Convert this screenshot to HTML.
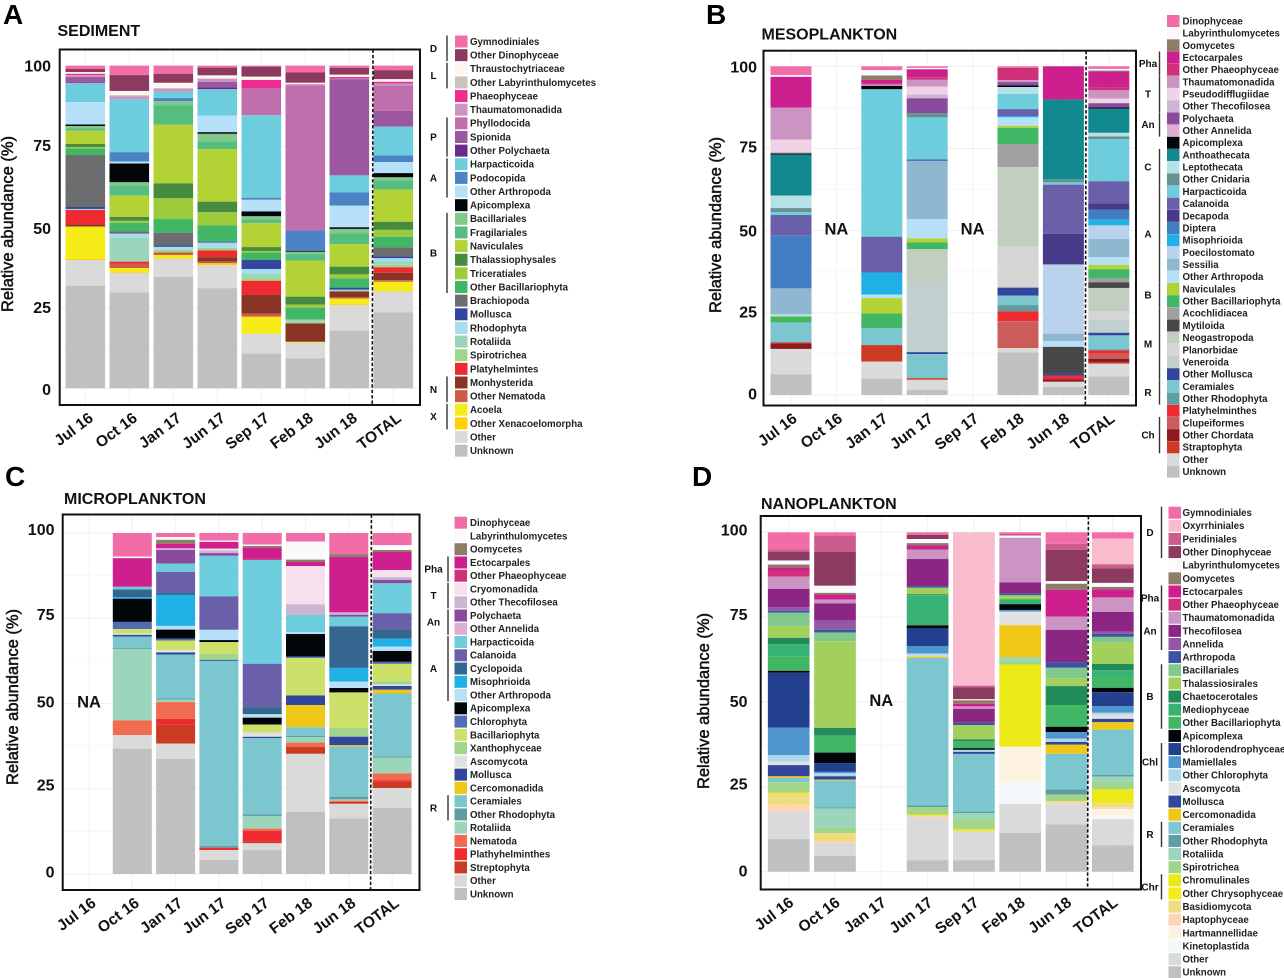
<!DOCTYPE html>
<html lang="en">
<head>
<meta charset="utf-8">
<title>Relative abundance of taxa by sample type</title>
<style>
html,body{margin:0;padding:0;background:#fff;}
svg{display:block;font-family:"Liberation Sans",sans-serif;}
.letter{font-size:28px;font-weight:700;fill:#000;}
.title{font-size:16px;font-weight:700;fill:#111;}
.ytitle{font-size:16.5px;font-weight:400;fill:#111;stroke:#111;stroke-width:.5px;text-anchor:middle;}
.ytick{font-size:16px;font-weight:700;fill:#111;text-anchor:end;}
.xtick{font-size:15.5px;font-weight:700;fill:#111;text-anchor:end;}
.na{font-size:16.5px;font-weight:700;fill:#111;text-anchor:middle;}
.leg{font-size:9.7px;font-weight:700;fill:#222;}
.grp{font-size:10px;font-weight:700;fill:#111;text-anchor:middle;}
</style>
</head>
<body>
<svg id="figure" width="1284" height="978" viewBox="0 0 1284 978" xmlns="http://www.w3.org/2000/svg">
  <rect width="1284" height="978" fill="#fff"/>
  <text class="letter" x="3" y="24">A</text>
  <text class="letter" x="706" y="24">B</text>
  <text class="letter" x="5" y="486">C</text>
  <text class="letter" x="692" y="486">D</text>
  <text class="title" x="57.5" y="36">SEDIMENT</text>
  <text class="title" x="761.5" y="39.5">MESOPLANKTON</text>
  <text class="title" x="64" y="504">MICROPLANKTON</text>
  <text class="title" x="761" y="509">NANOPLANKTON</text>
  <text class="ytitle" transform="translate(13,224) rotate(-90)">Relative abundance (%)</text>
  <text class="ytitle" transform="translate(721,225) rotate(-90)">Relative abundance (%)</text>
  <text class="ytitle" transform="translate(18,697) rotate(-90)">Relative abundance (%)</text>
  <text class="ytitle" transform="translate(709,701) rotate(-90)">Relative abundance (%)</text>
  <g id="charts"></g>
</svg>
<script>
const categories = ["Jul 16","Oct 16","Jan 17","Jun 17","Sep 17","Feb 18","Jun 18","TOTAL"];
const yTicks = [0,25,50,75,100];
const yMinorTicks = [12.5,37.5,62.5,87.5];

/* ---------- A: sediment ---------- */
const sedimentKeys = ["Gym","ODi","Thr","OLa","Pha","Tha","Phy","Spi","OPo","Har","Pod","OAr","Api","Bac","Fra","Nav","Ths","Tri","OBa","Bra","Mol","Rho","Rot","Spr","Pla","Mon","ONe","Aco","OXe","Oth","Unk"];
const sedimentTaxa = ["Gymnodiniales","Other Dinophyceae","Thraustochytriaceae","Other Labyrinthulomycetes","Phaeophyceae","Thaumatomonadida","Phyllodocida","Spionida","Other Polychaeta","Harpacticoida","Podocopida","Other Arthropoda","Apicomplexa","Bacillariales","Fragilariales","Naviculales","Thalassiophysales","Triceratiales","Other Bacillariophyta","Brachiopoda","Mollusca","Rhodophyta","Rotaliida","Spirotrichea","Platyhelmintes","Monhysterida","Other Nematoda","Acoela","Other Xenacoelomorpha","Other","Unknown"];
const sedimentColors = ["#f26ca7","#8c3a5f","#fdf6ef","#c9c3bd","#ec2d8e","#cb94c3","#c06fad","#9b58a0","#6a2c8b","#6dcddd","#4a84c5","#b5e0f7","#020608","#81c98a","#55bd7f","#b2d235","#468b3f","#9ccb3b","#41b766","#6c6d6f","#31469c","#a8dcef","#9bd5bc","#a0d58a","#ed2b30","#8a3426","#cf5c47","#f5ec17","#fed105","#dadada","#c0c0c0"];
const sedimentJul16 = {Gym:1,ODi:1,Thr:.5,Pha:.4,Tha:.6,Spi:1.7,OPo:.2,Har:5.8,OAr:6.9,Api:.5,Bac:.7,Fra:.7,Nav:4.1,Ths:1,Tri:.4,OBa:2,Bra:16,Mol:.6,Rho:.3,Pla:4.5,Mon:.6,OXe:.3,Aco:10,Oth:8,Unk:31.5};
const sedimentOct16 = {Gym:2.9,ODi:4.9,Thr:1.3,OLa:.3,Tha:1,Har:16.3,Pod:2.9,OAr:.6,Api:5.8,Bac:1,Fra:3.1,Nav:6.6,Ths:1.2,Tri:.6,OBa:2.7,Bra:.7,Rho:1.3,Rot:7.3,Pla:.7,ONe:1.3,OXe:.2,Aco:1.3,Oth:6,Unk:29.6};
const sedimentJan17 = {Gym:2.5,ODi:2.8,Thr:1.6,OLa:.2,Tha:1,Har:1.9,Pod:1,Bac:1.2,Fra:6,Nav:18.2,Ths:4.6,Tri:6.4,OBa:4.2,Bra:3.9,Mol:.5,Rho:.9,Spr:.8,ONe:.8,OXe:.2,Aco:1,Oth:5.6,Unk:34.4};
const sedimentJun17 = {Gym:.6,ODi:2.4,Thr:1,Tha:1,Spi:1.7,OPo:.6,Har:8.2,OAr:5.1,Api:.5,Bac:2.3,Fra:2.4,Nav:16.3,Ths:3.3,Tri:4.1,OBa:5,Mol:.3,Rho:1.6,Spr:.8,Pla:2.1,Mon:1.4,ONe:.5,OXe:.6,Oth:7.1,Unk:31};
const sedimentSep17 = {Gym:.3,ODi:3.1,Thr:1,Pha:2.6,Phy:8.3,Har:25.5,Pod:.6,OAr:3.6,Api:1.5,Bac:1,Fra:1.1,Nav:7.4,Ths:1.2,Tri:.5,OBa:2.3,Mol:2.8,Rho:1.5,Rot:1,Spr:1.1,Pla:4.4,Mon:5.8,ONe:.9,Aco:5.3,Oth:6.1,Unk:10.7};
const sedimentFeb18 = {Gym:2.1,ODi:3.2,Thr:.4,Tha:.4,Phy:45,Pod:6.3,Api:.3,Bac:.7,Fra:2,Nav:11.2,Ths:2.5,Tri:.9,OBa:3.7,Rot:.7,Spr:.5,Mon:5.7,Aco:.3,Oth:4.8,Unk:9.3};
const sedimentJun18 = {Gym:.7,ODi:2.1,Thr:.7,Pha:.3,Phy:.4,Spi:29.8,Har:5.3,Pod:4.1,OAr:6.7,Api:.5,Bac:1.4,Fra:3.3,Nav:7,Ths:2.4,Tri:1.2,OBa:2.9,Mol:.6,Rot:.6,Mon:1.7,ONe:.5,OXe:.3,Aco:1.7,Oth:7.9,Unk:17.9};
const sedimentTotal = {Gym:1.4,ODi:2.8,Thr:.8,Pha:.5,Tha:.6,Phy:7.9,Spi:4.9,Har:8.9,Pod:2.1,OAr:3.4,Api:1.3,Bac:1,Fra:2.8,Nav:10,Ths:2.5,Tri:2.1,OBa:3.3,Bra:2.8,Mol:.6,Rho:1,Rot:1,Spr:.8,Pla:1.7,Mon:2.3,ONe:.5,Aco:3,Oth:6.5,Unk:23.5};
const sedimentGroups = [["D",0,1],["L",2,3],["P",6,8],["A",9,11],["B",13,18],["N",25,26],["X",27,28]];

/* ---------- B: mesoplankton ---------- */
const mesoKeys = ["Din","Lab","Oom","Ect","OPh","Tha","Pse","OTh","Pol","OAn","Api","Ant","Lep","OCn","Har","Cal","Dec","Dip","Mis","Poe","Ses","OAr","Nav","OBa","Aco","Myt","Neo","Pla","Ven","OMo","Cer","ORh","Plt","Clu","OCh","Str","Oth","Unk"];
const mesoTaxa = ["Dinophyceae","Labyrinthulomycetes","Oomycetes","Ectocarpales","Other Phaeophyceae","Thaumatomonadida","Pseudodifflugiidae","Other Thecofilosea","Polychaeta","Other Annelida","Apicomplexa","Anthoathecata","Leptothecata","Other Cnidaria","Harpacticoida","Calanoida","Decapoda","Diptera","Misophrioida","Poecilostomato","Sessilia","Other Arthropoda","Naviculales","Other Bacillariophyta","Acochlidiacea","Mytiloida","Neogastropoda","Planorbidae","Veneroida","Other Mollusca","Ceramiales","Other Rhodophyta","Platyhelminthes","Clupeiformes","Other Chordata","Straptophyta","Other","Unknown"];
const mesoColors = ["#f26ca7","#fafafc","#8d7c66","#cd1f8d","#ce317a","#cc94c3","#f0d2e5","#cbb5d3","#8a4b9e","#e0aed2","#020608","#12888f","#b4e2e7","#67918f","#6dcddd","#6a5fa9","#483a8a","#417dc1","#1fb0e6","#bbd2ec","#90b7d0","#b5e0f7","#b2d235","#41b766","#a0a0a0","#474747","#c2cfc0","#d5d5d5","#c2cfcf","#31469c","#7bc6cf","#5e9ea2","#ed2b30","#cd5c5c","#8e1a1e","#cc3a24","#dadada","#c0c0c0"];
const mesoJul16 = {Din:2.7,Lab:.5,Ect:9.4,Tha:9.7,Pse:3.7,OTh:.5,Api:.4,Ant:12.4,Lep:3.8,OCn:1.2,Har:.9,Cal:6.3,Dip:16,Ses:7.9,OAr:.5,Nav:.2,OBa:1.8,Cer:5.9,Clu:.4,OCh:1.7,Oth:7.7,Unk:6.3};
const mesoOct16 = {};
const mesoJan17 = {Din:1.2,Lab:1.6,Oom:1.3,Ect:1.2,OPh:.3,Tha:.4,Api:1,Har:44.9,Cal:10.9,Mis:6.7,OAr:1.1,Nav:4.7,OBa:4.5,Cer:5.1,Str:5,Oth:5.2,Unk:5};
const mesoJun17 = {Din:.5,Lab:.4,Ect:2.4,OPh:.8,Tha:2.1,Pse:2.4,OTh:1.1,Pol:4.5,OCn:1.3,Har:12.7,Dip:.6,Ses:17.6,OAr:5.8,Nav:1.2,OBa:2.1,Neo:10.5,Ven:20.7,OMo:.6,Cer:7.3,Str:.5,Oth:3.1,Unk:1.5};
const mesoSep17 = {};
const mesoFeb18 = {Din:.5,OPh:3.7,Tha:.6,Pol:1,Api:.5,Lep:2.1,Har:4.6,Cal:2.1,Mis:.4,OAr:2.6,Nav:.6,OBa:5,Aco:6.9,Neo:24.1,Pla:12.5,OMo:2.4,Cer:2.9,ORh:1.9,Plt:3,Clu:7.7,Str:.4,Oth:1.4,Unk:12.9};
const mesoJun18 = {Ect:10.1,Ant:24.2,OCn:.9,Har:.7,Cal:14.9,Dec:9.3,Poe:21,Ses:2.3,OAr:1.7,Myt:8.1,OMo:.6,Plt:1.1,OCh:.8,Oth:1.6,Unk:2.4};
const mesoTotal = {Din:.8,Lab:.5,Oom:.3,Ect:4.8,OPh:.9,Tha:2.5,Pse:1.4,Pol:1.3,Api:.4,Ant:7.3,Lep:1.1,OCn:.8,Har:12.8,Cal:6.7,Dec:1.9,Dip:3.1,Mis:1.7,Poe:4.1,Ses:5.5,OAr:2.4,Nav:1.3,OBa:2.8,Aco:1.2,Myt:1.7,Neo:7,Pla:2.6,Ven:4,OMo:.8,Cer:4.2,ORh:.4,Plt:1,Clu:1.5,OCh:1.1,Str:.4,Oth:3.9,Unk:5.6};
const mesoGroups = [["Pha",3,4],["T",5,7],["An",8,9],["C",11,13],["A",14,21],["B",22,23],["M",24,29],["R",30,31],["Ch",33,35]];

/* ---------- C: microplankton ---------- */
const microKeys = ["Din","Lab","Oom","Ect","OPh","Cry","OTh","Pol","OAn","Har","Cal","Cyc","Mis","OAr","Api","Chl","Bac","Xan","Asc","Mol","Crc","Cer","ORh","Rot","Nem","Plt","Str","Oth","Unk"];
const microTaxa = ["Dinophyceae","Labyrinthulomycetes","Oomycetes","Ectocarpales","Other Phaeophyceae","Cryomonadida","Other Thecofilosea","Polychaeta","Other Annelida","Harpacticoida","Calanoida","Cyclopoida","Misophrioida","Other Arthropoda","Apicomplexa","Chlorophyta","Bacillariophyta","Xanthophyceae","Ascomycota","Mollusca","Cercomonadida","Ceramiales","Other Rhodophyta","Rotaliida","Nematoda","Plathyhelminthes","Streptophyta","Other","Unknown"];
const microColors = ["#f26ca7","#fafafc","#8d7c66","#cd1f8d","#ce317a","#f8dfee","#cbb5d3","#8a4b9e","#e0aed2","#6dcddd","#6a5fa9","#35668f","#1fb0e6","#b5e0f7","#020608","#4f6cb4","#cde06a","#a0d58a","#e1e3e2","#31469c","#efc817","#7bc6cf","#5e9ea2","#9bd5bc","#f16b50","#ed2b30","#cc3a24","#dadada","#c0c0c0"];
const microJul16 = {};
const microOct16 = {Din:6.9,Lab:.5,Ect:8.4,Har:.8,Cyc:2.2,Mis:.5,Api:6.8,Chl:2.1,Bac:1.3,Asc:.4,Mol:.5,Cer:3.4,ORh:.3,Rot:20.9,Nem:4.3,Oth:4,Unk:36.8};
const microJan17 = {Din:1.2,Lab:.8,Oom:1.2,Ect:1.3,OTh:.5,Pol:4,Har:2.4,Cal:6.1,Cyc:.7,Mis:9.1,OAr:1.1,Api:2.6,Chl:.6,Bac:2.8,Asc:.7,Mol:.6,Cer:12.9,ORh:.4,Rot:.7,Nem:4.9,Plt:1.6,Str:5.7,Oth:4.5,Unk:33.8};
const microJun17 = {Din:2.2,Lab:.4,Ect:2,Cry:.5,OTh:.8,Pol:.8,Har:11.9,Cal:9.8,OAr:3,Api:.6,Bac:3.5,Xan:1.7,Mol:.3,Cer:54.3,ORh:.5,Plt:.7,Oth:2.9,Unk:4.1};
const microSep17 = {Din:3.4,Lab:.4,Oom:.5,Ect:3.2,OPh:.4,Har:30.4,Cal:12.7,Cyc:2.1,OAr:1,Api:2,Bac:2.4,Asc:1.2,Mol:.4,Cer:22.3,ORh:.5,Rot:3.7,Nem:.7,Plt:3.2,Str:.4,Oth:2,Unk:7};
const microFeb18 = {Din:2.5,Lab:5.3,Oom:.7,Ect:1.2,Cry:11.2,OTh:3.1,Har:5,OAr:.6,Api:6.6,Chl:.4,Bac:11,Mol:2.8,Crc:6.5,Cer:2.5,ORh:.4,Rot:1.6,Nem:1.3,Str:2,Oth:17,Unk:18.2};
const microJun18 = {Din:6.2,Oom:.8,Ect:16.3,OTh:.7,Pol:.6,Har:2.8,Cyc:12.2,Mis:4,OAr:1.9,Api:1.3,Bac:10.4,Xan:2.6,Mol:2.5,Crc:.4,Cer:14.7,ORh:.8,Rot:.4,Nem:.3,Str:.6,Oth:4.3,Unk:16.3};
const microTotal = {Din:3.6,Lab:1.4,Oom:.6,Ect:5.3,Cry:2.1,OTh:.8,Pol:1,Har:8.8,Cal:4.8,Cyc:2.7,Mis:2.3,OAr:1.3,Api:3.2,Chl:.6,Bac:5.1,Xan:1,Asc:.4,Mol:1.1,Crc:1.1,Cer:18.5,ORh:.4,Rot:4.6,Nem:2,Plt:.5,Str:1.8,Oth:5.9,Unk:19.4};
const microGroups = [["Pha",3,4],["T",5,6],["An",7,8],["A",9,13],["R",21,22]];

/* ---------- D: nanoplankton ---------- */
const nanoKeys = ["Gym","Oxy","Per","ODi","Lab","Oom","Ect","OPh","Tha","The","Ann","Art","Bac","Thl","Cha","Med","OBa","Api","Chd","Mam","OCh","Asc","Mol","Crc","Cer","ORh","Rot","Spr","Chr","OCy","Bas","Hap","Hrt","Kin","Oth","Unk"];
const nanoTaxa = ["Gymnodiniales","Oxyrrhiniales","Peridiniales","Other Dinophyceae","Labyrinthulomycetes","Oomycetes","Ectocarpales","Other Phaeophyceae","Thaumatomonadida","Thecofilosea","Annelida","Arthropoda","Bacillariales","Thalassiosirales","Chaetocerotales","Mediophyceae","Other Bacillariophyta","Apicomplexa","Chlorodendrophyceae","Mamiellales","Other Chlorophyta","Ascomycota","Mollusca","Cercomonadida","Ceramiales","Other Rhodophyta","Rotaliida","Spirotrichea","Chromulinales","Other Chrysophyceae","Basidiomycota","Haptophyceae","Hartmannellidae","Kinetoplastida","Other","Unknown"];
const nanoColors = ["#f26ca7","#f8bccd","#cd5c8e","#8c3a5f","#fafafc","#8d7c66","#cd1f8d","#ce317a","#cc94c3","#8b2783","#9258a5","#3b53a4","#81c98a","#a3cf5b","#228b5a","#39b375","#41b766","#020608","#23408e","#4e94cd","#add8ea","#e1e3e2","#31469c","#efc817","#7bc6cf","#5e9ea2","#9bd5bc","#a0d58a","#ebe917","#f5ec17","#eedc7f","#fdd4b8","#fdf1e0","#f3f8fb","#dadada","#c0c0c0"];
const nanoJul16 = {Gym:5,Per:.8,ODi:2.5,Lab:1.2,Oom:.9,Ect:1,OPh:1.7,Tha:3.6,The:5.4,Ann:1,Art:.6,Bac:3.9,Thl:3.5,Cha:1.9,Med:3.5,OBa:4.3,Api:.6,Chd:16.2,Mam:8.1,OCh:1.9,Asc:1,Mol:3.3,Crc:.5,Cer:1.2,Spr:3.1,Chr:.5,Bas:3.2,Hap:2,Oth:8,Unk:9.6};
const nanoOct16 = {Gym:1.1,Per:4.7,ODi:10,Lab:2.1,Oom:.5,Ect:1.5,Tha:1.1,The:5.1,Ann:2.7,Art:.8,Bac:2.6,Thl:25.6,Cha:2.3,OBa:5,Api:3.1,Chd:2.6,Mam:.4,OCh:.9,Mol:1,Crc:.3,Cer:7.9,ORh:.3,Rot:5.7,Spr:1.6,Bas:2.5,Hap:.3,Oth:3.9,Unk:4.7};
const nanoJan17 = {};
const nanoJun17 = {Gym:.8,ODi:1.2,Lab:1.2,Oom:.7,Ect:1.2,Tha:2.8,The:8,Art:.5,Thl:1.9,Cha:.3,Med:8.9,Api:.9,Chd:5.3,Mam:2.1,OCh:.6,Asc:.3,Crc:.4,Cer:43.6,ORh:.5,Spr:2.2,Chr:.4,Hap:.6,Oth:12.5,Unk:3.4};
const nanoSep17 = {Per:.5,Oxy:45.2,ODi:3.5,Lab:.3,Oom:1,Ect:.8,Tha:.7,The:4.1,Art:.7,Thl:4.2,Cha:.6,OBa:2,Api:.5,OCh:.6,Mol:.6,Cer:17,ORh:.4,Rot:1.8,Spr:3,Chr:.6,Oth:8.5,Unk:3.4};
const nanoFeb18 = {Gym:.5,Lab:.6,Per:.5,Tha:13.2,The:3.2,Art:.6,Thl:1.1,Med:1.5,Api:1.7,Asc:4,Crc:9.5,Mam:.5,Rot:1.1,Spr:1,Chr:24.2,Hrt:10.5,Kin:6.4,Oth:8.6,Unk:11.4};
const nanoJun18 = {Gym:3.4,Per:1.8,ODi:9.2,Lab:.8,Oom:1.8,Ect:7.9,Tha:3.9,The:9.6,Art:1.6,Bac:3.1,Thl:2.3,Cha:5.6,OBa:6.4,Api:1.6,Mam:1.9,OCh:1,Mol:.8,Crc:2.7,Cer:10.5,ORh:1.5,Spr:2,Bas:.5,Hap:.3,Oth:6,Unk:14};
const nanoTotal = {Gym:1.9,Oxy:7.6,Per:1.2,ODi:4.3,Lab:1.2,Oom:.7,Ect:2.4,Tha:4.3,The:5.9,Ann:.6,Art:.9,Bac:1.7,Thl:6.3,Cha:1.9,Med:2,OBa:3.2,Api:1.3,Chd:4.1,Mam:2,OCh:.6,Asc:1.2,Mol:1,Crc:2.2,Cer:13.4,ORh:.5,Rot:1.6,Spr:2.2,Chr:4.1,Bas:1.2,Hap:.5,Hrt:1.9,Kin:1.1,Oth:7.8,Unk:7.8};
const nanoGroups = [["D",0,3],["Pha",6,7],["An",8,10],["B",12,16],["Chl",18,20],["R",24,25],["Chr",28,29]];

/* ---------- panel wiring and layout ---------- */
const panels = [
  {id:"sediment",keys:sedimentKeys,taxa:sedimentTaxa,colors:sedimentColors,groups:sedimentGroups,
   bars:[sedimentJul16,sedimentOct16,sedimentJan17,sedimentJun17,sedimentSep17,sedimentFeb18,sedimentJun18,sedimentTotal],
   frame:[59.7,49.5,420,405],xFirst:85.3,step:44,barW:39.6,y0:388.3,y100:65.7,dash:372.6,
   tickRight:51,tickNudge:[1,-.5,1.5,-1,0],xLabelShift:9,
   legend:{sw:455,tx:470,first:41.5,step:13.64,bar:447,label:433.5}},
  {id:"mesoplankton",keys:mesoKeys,taxa:mesoTaxa,colors:mesoColors,groups:mesoGroups,
   bars:[mesoJul16,mesoOct16,mesoJan17,mesoJun17,mesoSep17,mesoFeb18,mesoJun18,mesoTotal],
   frame:[763.5,50.7,1136,405.5],xFirst:791,step:45.4,barW:41,y0:395,y100:66.3,dash:1085.7,
   tickRight:757,tickNudge:[-1,-1,0,-1.5,.7],xLabelShift:7,
   legend:{sw:1167,tx:1182.5,first:21,step:12.18,bar:1159.5,label:1148}},
  {id:"microplankton",keys:microKeys,taxa:microTaxa,colors:microColors,groups:microGroups,
   bars:[microJul16,microOct16,microJan17,microJun17,microSep17,microFeb18,microJun18,microTotal],
   frame:[62.7,514.5,419.5,890],xFirst:89,step:43.3,barW:39,y0:874,y100:533,dash:371,
   tickRight:54.5,tickNudge:[-2.3,-4,-1.5,-4,-3.7],xLabelShift:8,
   legend:{sw:454.5,tx:470,first:522.7,step:13.26,bar:448,label:433.5}},
  {id:"nanoplankton",keys:nanoKeys,taxa:nanoTaxa,colors:nanoColors,groups:nanoGroups,
   bars:[nanoJul16,nanoOct16,nanoJan17,nanoJun17,nanoSep17,nanoFeb18,nanoJun18,nanoTotal],
   frame:[760.7,516,1141,889.5],xFirst:788.7,step:46.3,barW:41.7,y0:871.7,y100:532.3,dash:1088,
   tickRight:747.5,tickNudge:[-.7,-3,-.5,-2.7,-2.3],xLabelShift:6,
   legend:{sw:1168.5,tx:1182.5,first:512.7,step:13.13,bar:1161.5,label:1150}}
];

const SVG_NS = "http://www.w3.org/2000/svg";
const layer = document.getElementById("charts");

function make(tag, attrs, parent, text) {
  const el = document.createElementNS(SVG_NS, tag);
  for (const k in attrs) el.setAttribute(k, attrs[k]);
  if (text !== undefined) el.textContent = text;
  parent.appendChild(el);
  return el;
}
function slug(s) { return String(s).toLowerCase().replace(/[^a-z0-9]+/g, "-"); }

panels.forEach(function (p) {
  const xScale = function (i) { return p.xFirst + i * p.step; };
  const yScale = function (v) { return p.y0 - v * (p.y0 - p.y100) / 100; };
  const [fx0, fy0, fx1, fy1] = p.frame;

  const g = make("g", {}, layer);
  
  

  // grid
  yMinorTicks.forEach(function (v) {
    const l = make("line", {x1: fx0, x2: fx1, y1: yScale(v), y2: yScale(v), stroke: "#f7f7f7", "stroke-width": 1}, g);
    
    
  });
  yTicks.forEach(function (v, n) {
    const l = make("line", {x1: fx0, x2: fx1, y1: yScale(v), y2: yScale(v), stroke: "#f0f0f0", "stroke-width": 1}, g);
    
    
    const t = make("text", {class: "ytick", x: p.tickRight, y: yScale(v) + 5.7 + p.tickNudge[n]}, g, v);
    
    
  });
  categories.forEach(function (c, i) {
    const l = make("line", {x1: xScale(i), x2: xScale(i), y1: fy0, y2: fy1, stroke: "#f0f0f0", "stroke-width": 1}, g);
    
    
    const t = make("text", {class: "xtick", transform: "translate(" + (xScale(i) + p.xLabelShift) + "," + (fy1 + 15) + ") rotate(-37)"}, g, c);
    
    
  });

  // bars: stacked in legend order, top of the bar = first taxon
  p.bars.forEach(function (bar, i) {
    const total = p.keys.reduce(function (s, k) { return s + (bar[k] || 0); }, 0);
    if (!total) {
      const na = make("text", {class: "na", x: xScale(i), y: yScale(50) + 4}, g, "NA");
      
      
      return;
    }
    let top = 100;
    p.keys.forEach(function (k, idx) {
      const v = bar[k] || 0;
      if (!v) return;
      const share = v / total * 100;
      const seg = make("rect", {
        x: xScale(i) - p.barW / 2,
        y: yScale(top),
        width: p.barW,
        height: yScale(top - share) - yScale(top),
        fill: p.colors[idx]
      }, g);
      
      
      top -= share;
    });
  });

  // frame and divider
  const frame = make("rect", {x: fx0, y: fy0, width: fx1 - fx0, height: fy1 - fy0, fill: "none", stroke: "#111", "stroke-width": 2}, g);
  
  
  const divider = make("line", {x1: p.dash + .4, x2: p.dash - .4, y1: fy0, y2: fy1, stroke: "#111", "stroke-width": 1.6, "stroke-dasharray": "3.4 2"}, g);
  
  

  // legend
  const lg = p.legend;
  p.taxa.forEach(function (name, r) {
    const cy = lg.first + r * lg.step;
    const sw = make("rect", {x: lg.sw, y: cy - 6, width: 12.5, height: 12, fill: p.colors[r]}, g);
    
    
    const tx = make("text", {class: "leg", x: lg.tx, y: cy + 3.4}, g, name);
    
    
  });
  p.groups.forEach(function (grp) {
    const ya = lg.first + grp[1] * lg.step - 6;
    const yb = lg.first + grp[2] * lg.step + 6;
    const br = make("line", {x1: lg.bar, x2: lg.bar, y1: ya, y2: yb, stroke: "#333", "stroke-width": 1.4}, g);
    
    
    const lb = make("text", {class: "grp", x: lg.label, y: (ya + yb) / 2 + 3.5}, g, grp[0]);
    
    
  });
});
</script>
</body>
</html>
